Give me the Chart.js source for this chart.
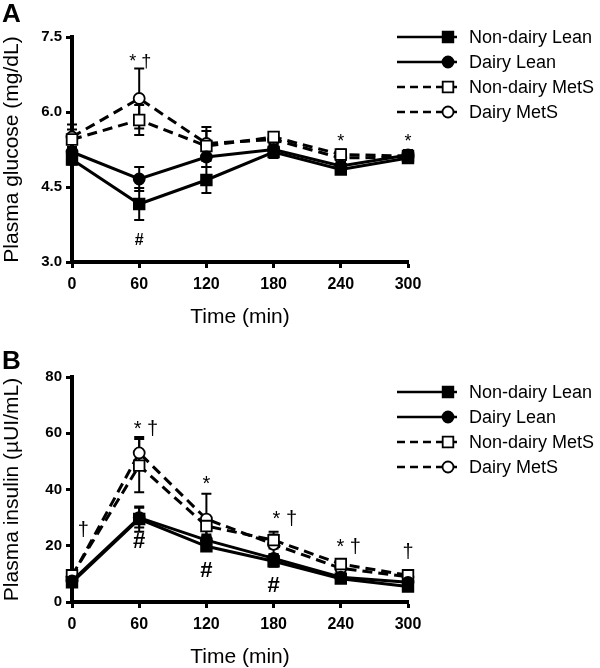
<!DOCTYPE html>
<html lang="en">
<head>
<meta charset="UTF-8">
<title>Plasma glucose and insulin</title>
<script src="https://cdn.jsdelivr.net/npm/chart.js"></script>
<style>
  body { margin: 0; background: #fff; width: 600px; height: 668px; overflow: hidden; position: relative; font-family: "Liberation Sans", Arial, sans-serif; }
  .panel { position: absolute; left: 0; width: 600px; }
  .tag { position: absolute; left: 2px; font-weight: bold; font-size: 26px; line-height: 1; color: #000; }
</style>
</head>
<body>
<div class="panel" style="top:0;height:330px"><canvas id="glucoseChart" width="600" height="330"></canvas></div>
<div class="panel" style="top:330px;height:338px"><canvas id="insulinChart" width="600" height="338"></canvas></div>
<div class="tag" style="top:0">A</div>
<div class="tag" style="top:347px">B</div>

<script>
// data
const times = [0, 60, 120, 180, 240, 300];
const groupNames = ['Non-dairy Lean', 'Dairy Lean', 'Non-dairy MetS', 'Dairy MetS'];

// panel A: plasma glucose (mg/dL), mean and error
const glucoseNonDairyLean = [5.05, 4.16, 4.64, 5.20, 4.85, 5.08];
const glucoseDairyLean = [5.20, 4.66, 5.10, 5.25, 4.92, 5.14];
const glucoseNonDairyMetS = [5.45, 5.84, 5.32, 5.50, 5.15, 5.12];
const glucoseDairyMetS = [5.50, 6.27, 5.37, 5.45, 5.08, 5.10];
const glucoseErrNonDairyLean = [0.10, 0.32, 0.26, 0.12, 0.08, 0.10];
const glucoseErrDairyLean = [0.10, 0.24, 0.20, 0.10, 0.08, 0.10];
const glucoseErrNonDairyMetS = [0.20, 0.30, 0.30, 0.08, 0.10, 0.10];
const glucoseErrDairyMetS = [0.25, 0.60, 0.33, 0.08, 0.10, 0.12];
const glucoseTicks = [3.0, 4.5, 6.0, 7.5];
const glucoseNoteX = [61, 60, 240, 300];
const glucoseNoteY = [7.0, 3.43, 5.39, 5.39];
const glucoseNoteText = ['* †', '#', '*', '*'];

// panel B: plasma insulin (µUI/mL), mean and error
const insulinNonDairyLean = [7.0, 29.5, 19.8, 14.5, 8.3, 5.5];
const insulinDairyLean = [7.5, 30.0, 22.0, 15.5, 8.8, 7.0];
const insulinNonDairyMetS = [9.5, 48.5, 27.0, 22.0, 13.5, 9.5];
const insulinDairyMetS = [9.0, 53.0, 29.5, 20.5, 12.0, 9.0];
const insulinErrNonDairyLean = [1.0, 4.5, 1.5, 2.0, 1.0, 1.0];
const insulinErrDairyLean = [1.0, 3.5, 1.5, 1.5, 1.0, 1.0];
const insulinErrNonDairyMetS = [1.5, 9.5, 3.0, 3.0, 1.5, 1.5];
const insulinErrDairyMetS = [1.5, 5.7, 9.0, 3.5, 1.5, 1.5];
const insulinTicks = [0, 20, 40, 60, 80];
const insulinNoteX = [10, 66, 60, 120, 120, 190, 180, 247, 300];
const insulinNoteY = [25.3, 61.5, 21.3, 41.7, 11.0, 29.4, 5.7, 19.3, 17.7];
const insulinNoteText = ['†', '* †', '#', '*', '#', '* †', '#', '* †', '†'];

const FONT = '"Liberation Sans", Arial, sans-serif';

// look of the four groups
const groupStyles = [
  { dash: [], point: 'rect', fill: '#000' },
  { dash: [], point: 'circle', fill: '#000' },
  { dash: [10, 6], point: 'rect', fill: '#fff' },
  { dash: [10, 6], point: 'circle', fill: '#fff' }
];

function makeDatasets(series, errors) {
  return series.map((vals, i) => ({
    label: groupNames[i],
    data: times.map((t, j) => ({ x: t, y: vals[j] })),
    errorBars: errors[i],
    borderColor: '#000',
    borderWidth: 3,
    borderDash: groupStyles[i].dash,
    pointStyle: groupStyles[i].point,
    pointRadius: groupStyles[i].point === 'rect' ? 7.5 : 5.5,
    pointBackgroundColor: groupStyles[i].fill,
    pointBorderColor: '#000',
    pointBorderWidth: 1.8,
    tension: 0,
    clip: false
  }));
}

function drawMarker(ctx, ds, x, y) {
  ctx.lineWidth = ds.pointBorderWidth;
  ctx.strokeStyle = '#000';
  ctx.fillStyle = ds.pointBackgroundColor;
  ctx.beginPath();
  if (ds.pointStyle === 'rect') {
    const s = ds.pointRadius * Math.SQRT1_2;
    ctx.rect(x - s, y - s, 2 * s, 2 * s);
  } else {
    ctx.arc(x, y, ds.pointRadius, 0, Math.PI * 2);
  }
  ctx.fill();
  ctx.stroke();
}

// mean +/- error whiskers with caps
const errorBarPlugin = {
  id: 'errorBars',
  beforeDatasetsDraw(chart) {
    const { ctx, scales: { x, y } } = chart;
    ctx.save();
    ctx.strokeStyle = '#000';
    ctx.lineWidth = 2;
    chart.data.datasets.forEach(ds => {
      ds.data.forEach((p, j) => {
        const e = ds.errorBars[j];
        const px = x.getPixelForValue(p.x);
        const top = y.getPixelForValue(p.y + e);
        const bot = y.getPixelForValue(p.y - e);
        ctx.beginPath();
        ctx.moveTo(px, top); ctx.lineTo(px, bot);
        ctx.moveTo(px - 5, top); ctx.lineTo(px + 5, top);
        ctx.moveTo(px - 5, bot); ctx.lineTo(px + 5, bot);
        ctx.stroke();
      });
    });
    ctx.restore();
  }
};

// significance marks (*, †, #)
const notesPlugin = {
  id: 'notes',
  afterDatasetsDraw(chart, args, opts) {
    const { ctx, scales: { x, y } } = chart;
    ctx.save();
    ctx.fillStyle = '#000';
    ctx.textAlign = 'center';
    ctx.textBaseline = 'middle';
    opts.text.forEach((t, i) => {
      ctx.font = t === '#' ? 'bold ' + opts.hashSize + 'px ' + FONT : opts.size + 'px ' + FONT;
      ctx.fillText(t, x.getPixelForValue(opts.x[i]), y.getPixelForValue(opts.y[i]));
    });
    ctx.restore();
  }
};

// legend to the right, partly over the plot area
const sideLegendPlugin = {
  id: 'sideLegend',
  afterDraw(chart, args, opts) {
    const ctx = chart.ctx;
    ctx.save();
    chart.data.datasets.forEach((ds, i) => {
      const y = opts.top + i * opts.gap;
      ctx.strokeStyle = '#000';
      ctx.lineWidth = 2.5;
      ctx.setLineDash(ds.borderDash.length ? [8, 5] : []);
      ctx.beginPath();
      ctx.moveTo(opts.lineStart, y);
      ctx.lineTo(opts.lineEnd, y);
      ctx.stroke();
      ctx.setLineDash([]);
      drawMarker(ctx, ds, opts.markerX, y);
      ctx.fillStyle = '#000';
      ctx.font = '18px ' + FONT;
      ctx.textAlign = 'left';
      ctx.textBaseline = 'middle';
      ctx.fillText(ds.label, opts.textX, y + 1);
    });
    ctx.restore();
  }
};

function axisLook() {
  return {
    border: { display: true, color: '#000', width: 4 },
    grid: { drawOnChartArea: false, drawTicks: true, tickLength: 6, tickWidth: 3, tickColor: '#000', color: '#000' }
  };
}

function makeChart(id, cfg) {
  new Chart(document.getElementById(id), {
    type: 'line',
    data: { datasets: makeDatasets(cfg.series, cfg.errors) },
    plugins: [errorBarPlugin, notesPlugin, sideLegendPlugin],
    options: {
      responsive: false,
      animation: false,
      devicePixelRatio: 1,
      layout: { padding: { top: cfg.padTop, right: 192, bottom: 0, left: 0 } },
      plugins: {
        legend: { display: false },
        tooltip: { enabled: false },
        notes: { x: cfg.noteX, y: cfg.noteY, text: cfg.noteText, size: cfg.noteSize, hashSize: cfg.hashSize },
        sideLegend: { top: cfg.legendTop, gap: 25, lineStart: 397, lineEnd: 457, markerX: 448, textX: 469 }
      },
      scales: {
        x: Object.assign(axisLook(), {
          type: 'linear',
          min: 0,
          max: 300,
          afterBuildTicks(s) { s.ticks = times.map(v => ({ value: v })); },
          afterFit(s) { s.height = cfg.xHeight; },
          ticks: { color: '#000', padding: 7, font: { family: FONT, size: 16, weight: 'bold' } },
          title: { display: true, text: 'Time (min)', color: '#000', padding: { top: 0, bottom: cfg.titlePad }, font: { family: FONT, size: 21, lineHeight: 1 } }
        }),
        y: Object.assign(axisLook(), {
          type: 'linear',
          min: cfg.ticks[0],
          max: cfg.ticks[cfg.ticks.length - 1],
          afterBuildTicks(s) { s.ticks = cfg.ticks.map(v => ({ value: v })); },
          afterFit(s) { s.width = 72; },
          ticks: { color: '#000', padding: 4, font: { family: FONT, size: 15, weight: 'bold' }, callback: cfg.fmt },
          title: { display: true, text: cfg.yTitle, color: '#000', padding: 0, font: { family: FONT, size: 21, lineHeight: 1.2 } }
        })
      }
    }
  });
}

makeChart('glucoseChart', {
  series: [glucoseNonDairyLean, glucoseDairyLean, glucoseNonDairyMetS, glucoseDairyMetS],
  errors: [glucoseErrNonDairyLean, glucoseErrDairyLean, glucoseErrNonDairyMetS, glucoseErrDairyMetS],
  ticks: glucoseTicks,
  fmt: v => v.toFixed(1),
  yTitle: 'Plasma glucose (mg/dL)',
  noteX: glucoseNoteX, noteY: glucoseNoteY, noteText: glucoseNoteText,
  noteSize: 18, hashSize: 16,
  padTop: 37, xHeight: 68, titlePad: 2,
  legendTop: 37
});

makeChart('insulinChart', {
  series: [insulinNonDairyLean, insulinDairyLean, insulinNonDairyMetS, insulinDairyMetS],
  errors: [insulinErrNonDairyLean, insulinErrDairyLean, insulinErrNonDairyMetS, insulinErrDairyMetS],
  ticks: insulinTicks,
  fmt: v => String(v),
  yTitle: 'Plasma insulin (µUI/mL)',
  noteX: insulinNoteX, noteY: insulinNoteY, noteText: insulinNoteText,
  noteSize: 20, hashSize: 22,
  padTop: 47, xHeight: 66, titlePad: 0,
  legendTop: 62
});
</script>
</body>
</html>
